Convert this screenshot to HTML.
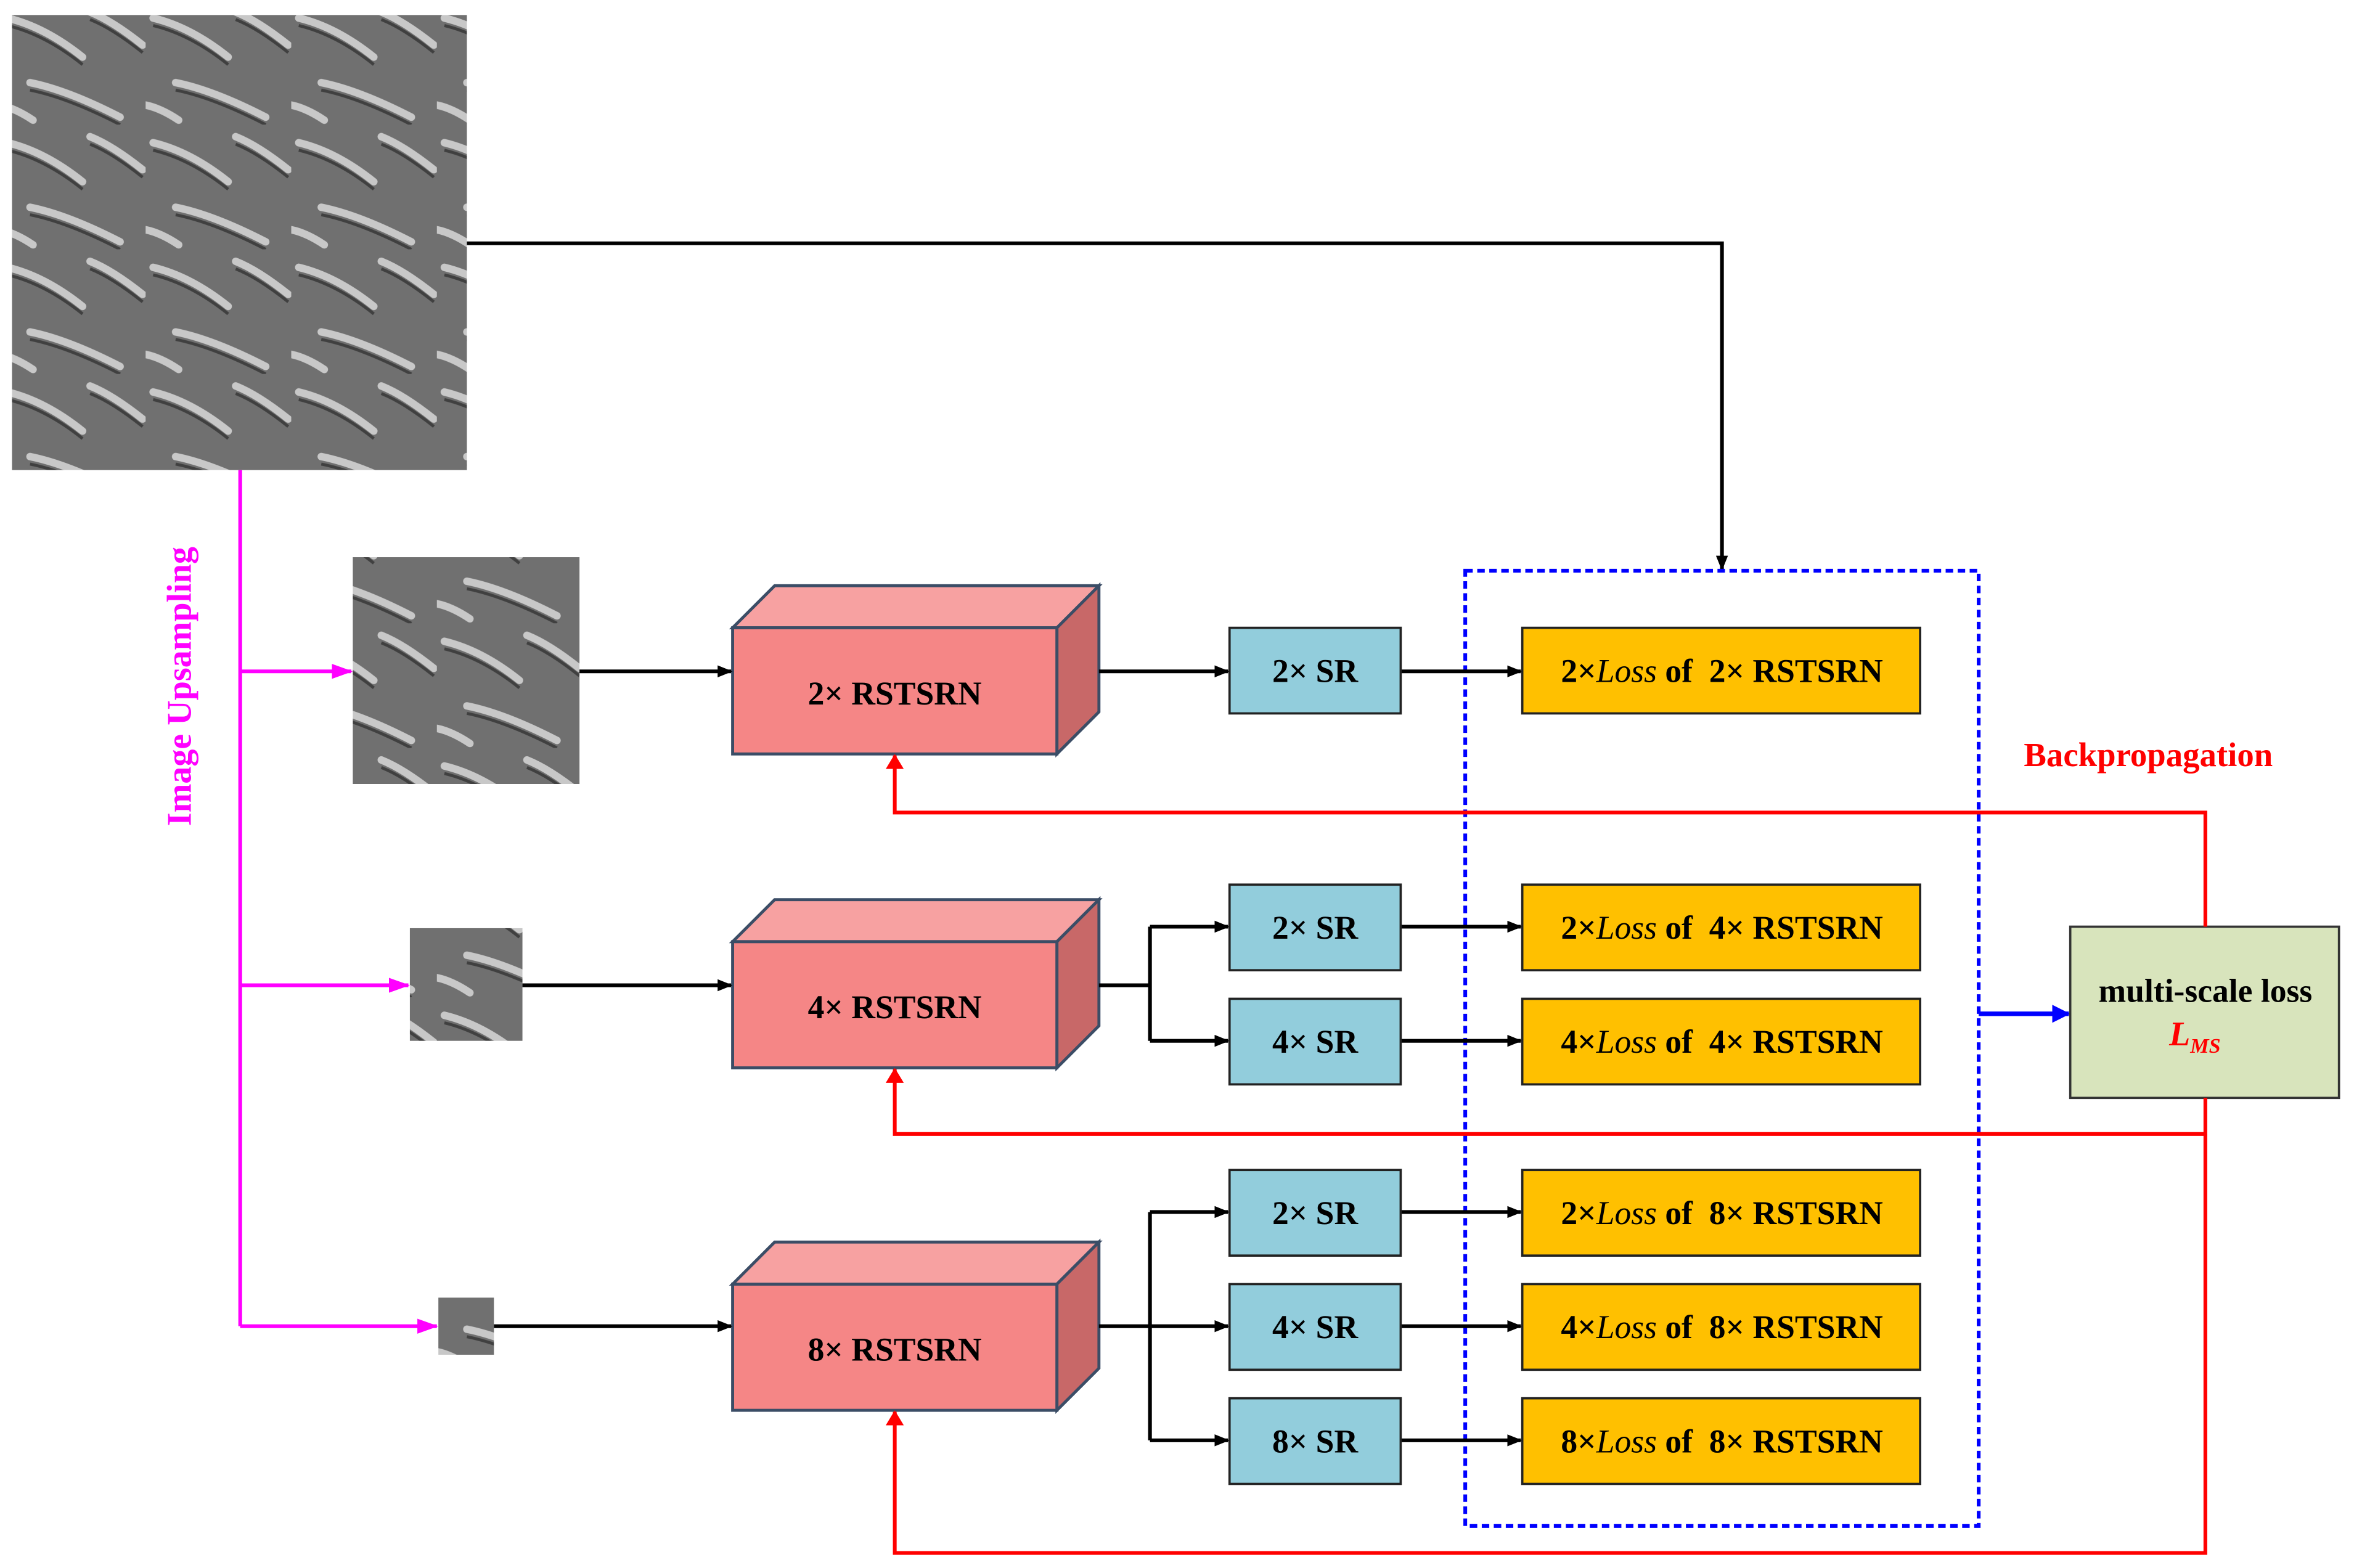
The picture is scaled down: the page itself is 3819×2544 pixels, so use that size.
<!DOCTYPE html>
<html><head><meta charset="utf-8"><style>
html,body{margin:0;padding:0;background:#fff;}
svg{display:block;}
text{font-family:"Liberation Serif",serif;font-weight:bold;white-space:pre;}
</style></head><body>
<svg width="3819" height="2544" viewBox="0 0 1568 1044" preserveAspectRatio="none" xmlns="http://www.w3.org/2000/svg">
<defs>
<marker id="ak" markerWidth="10" markerHeight="8" refX="9" refY="4" orient="auto" markerUnits="userSpaceOnUse"><path d="M0,0 L10,4 L0,8 z" fill="#000"/></marker>
<marker id="ar" markerWidth="10" markerHeight="12" refX="9" refY="6" orient="auto" markerUnits="userSpaceOnUse"><path d="M0,0 L10,6 L0,12 z" fill="#f00"/></marker>
<marker id="am" markerWidth="14" markerHeight="10" refX="13" refY="5" orient="auto" markerUnits="userSpaceOnUse"><path d="M0,0 L14,5 L0,10 z" fill="#f0f"/></marker>
<marker id="ab" markerWidth="12" markerHeight="12" refX="11" refY="6" orient="auto" markerUnits="userSpaceOnUse"><path d="M0,0 L12,6 L0,12 z" fill="#00f"/></marker>
<pattern id="terr" width="97" height="83" patternUnits="userSpaceOnUse">
<rect width="97" height="83" fill="#707070"/>
<path d="M5,12 Q30,18 55,38 M20,55 Q45,60 80,78 M60,8 Q75,14 95,30 M0,70 Q10,72 22,80" stroke="#c8c8c8" stroke-width="5" fill="none" stroke-linecap="round"/>
<path d="M5,17 Q30,23 55,43 M20,60 Q45,65 80,83 M60,13 Q75,19 95,35" stroke="#404040" stroke-width="2" fill="none"/>
</pattern>
</defs>
<rect x="8" y="10" width="303" height="303" fill="url(#terr)"/>
<rect x="235" y="371" width="151" height="151" fill="url(#terr)"/>
<rect x="273" y="618" width="75" height="75" fill="url(#terr)"/>
<rect x="292" y="864" width="37" height="38" fill="url(#terr)"/>

<polyline points="311,162 1147,162 1147,379" fill="none" stroke="#000" stroke-width="2.5" marker-end="url(#ak)"/>
<g stroke="#f0f" stroke-width="2.5" fill="none">
<line x1="160" y1="313" x2="160" y2="883"/>
<line x1="160" y1="447" x2="234" y2="447" marker-end="url(#am)"/>
<line x1="160" y1="656" x2="272" y2="656" marker-end="url(#am)"/>
<line x1="160" y1="883" x2="291" y2="883" marker-end="url(#am)"/>
</g>
<text transform="translate(127,457) rotate(-90)" text-anchor="middle" font-size="23" fill="#f0f">Image Upsampling</text>

<rect x="976" y="380" width="342" height="636" fill="none" stroke="#00f" stroke-width="2.5" stroke-dasharray="5,3"/>

<g stroke="#3b4d66" stroke-width="2">
<g><polygon points="488,418 516,390 732,390 704,418" fill="#f7a1a1"/><polygon points="704,418 732,390 732,474 704,502" fill="#c86868"/><rect x="488" y="418" width="216" height="84" fill="#f58686"/></g>
<g transform="translate(0,209)"><polygon points="488,418 516,390 732,390 704,418" fill="#f7a1a1"/><polygon points="704,418 732,390 732,474 704,502" fill="#c86868"/><rect x="488" y="418" width="216" height="84" fill="#f58686"/></g>
<g transform="translate(0,437)"><polygon points="488,418 516,390 732,390 704,418" fill="#f7a1a1"/><polygon points="704,418 732,390 732,474 704,502" fill="#c86868"/><rect x="488" y="418" width="216" height="84" fill="#f58686"/></g>
</g>
<g font-size="22" text-anchor="middle" fill="#000">
<text x="596" y="469">2× RSTSRN</text>
<text x="596" y="678">4× RSTSRN</text>
<text x="596" y="906">8× RSTSRN</text>
</g>

<g stroke="#000" stroke-width="2.5" fill="none">
<line x1="386" y1="447" x2="487" y2="447" marker-end="url(#ak)"/>
<line x1="348" y1="656" x2="487" y2="656" marker-end="url(#ak)"/>
<line x1="329" y1="883" x2="487" y2="883" marker-end="url(#ak)"/>
<line x1="732" y1="447" x2="818" y2="447" marker-end="url(#ak)"/>
<polyline points="732,656 766,656"/>
<line x1="766" y1="617" x2="766" y2="693"/>
<line x1="766" y1="617" x2="818" y2="617" marker-end="url(#ak)"/>
<line x1="766" y1="693" x2="818" y2="693" marker-end="url(#ak)"/>
<polyline points="732,883 766,883"/>
<line x1="766" y1="807" x2="766" y2="959"/>
<line x1="766" y1="807" x2="818" y2="807" marker-end="url(#ak)"/>
<line x1="766" y1="883" x2="818" y2="883" marker-end="url(#ak)"/>
<line x1="766" y1="959" x2="818" y2="959" marker-end="url(#ak)"/>
<line x1="933" y1="447" x2="1013" y2="447" marker-end="url(#ak)"/>
<line x1="933" y1="617" x2="1013" y2="617" marker-end="url(#ak)"/>
<line x1="933" y1="693" x2="1013" y2="693" marker-end="url(#ak)"/>
<line x1="933" y1="807" x2="1013" y2="807" marker-end="url(#ak)"/>
<line x1="933" y1="883" x2="1013" y2="883" marker-end="url(#ak)"/>
<line x1="933" y1="959" x2="1013" y2="959" marker-end="url(#ak)"/>
</g>

<g fill="#92cddc" stroke="#222" stroke-width="1.5">
<rect x="819" y="418" width="114" height="57"/>
<rect x="819" y="589" width="114" height="57"/>
<rect x="819" y="665" width="114" height="57"/>
<rect x="819" y="779" width="114" height="57"/>
<rect x="819" y="855" width="114" height="57"/>
<rect x="819" y="931" width="114" height="57"/>
</g>
<g font-size="22" text-anchor="middle">
<text x="876" y="454">2× SR</text>
<text x="876" y="625">2× SR</text>
<text x="876" y="701">4× SR</text>
<text x="876" y="815">2× SR</text>
<text x="876" y="891">4× SR</text>
<text x="876" y="967">8× SR</text>
</g>
<g fill="#ffc000" stroke="#222" stroke-width="1.5">
<rect x="1014" y="418" width="265" height="57"/>
<rect x="1014" y="589" width="265" height="57"/>
<rect x="1014" y="665" width="265" height="57"/>
<rect x="1014" y="779" width="265" height="57"/>
<rect x="1014" y="855" width="265" height="57"/>
<rect x="1014" y="931" width="265" height="57"/>
</g>
<g font-size="22" text-anchor="middle">
<text x="1147" y="454">2×<tspan font-style="italic" font-weight="normal">Loss</tspan> of  2× RSTSRN</text>
<text x="1147" y="625">2×<tspan font-style="italic" font-weight="normal">Loss</tspan> of  4× RSTSRN</text>
<text x="1147" y="701">4×<tspan font-style="italic" font-weight="normal">Loss</tspan> of  4× RSTSRN</text>
<text x="1147" y="815">2×<tspan font-style="italic" font-weight="normal">Loss</tspan> of  8× RSTSRN</text>
<text x="1147" y="891">4×<tspan font-style="italic" font-weight="normal">Loss</tspan> of  8× RSTSRN</text>
<text x="1147" y="967">8×<tspan font-style="italic" font-weight="normal">Loss</tspan> of  8× RSTSRN</text>
</g>

<line x1="1318" y1="675" x2="1378" y2="675" stroke="#00f" stroke-width="3" marker-end="url(#ab)"/>
<rect x="1379" y="617" width="179" height="114" fill="#d8e4bc" stroke="#333" stroke-width="1.5"/>
<text x="1469" y="667" font-size="22" text-anchor="middle">multi-scale loss</text>
<text x="1462" y="696" font-size="23" text-anchor="middle" fill="#f00" font-style="italic">L<tspan font-size="14" dy="5">MS</tspan></text>

<g stroke="#f00" stroke-width="2.5" fill="none">
<polyline points="1469,617 1469,541 596,541 596,503" marker-end="url(#ar)"/>
<polyline points="1469,731 1469,755 596,755 596,712" marker-end="url(#ar)"/>
<polyline points="1469,755 1469,1034 596,1034 596,940" marker-end="url(#ar)"/>
</g>
<text x="1431" y="510" font-size="22.5" text-anchor="middle" fill="#f00">Backpropagation</text>
</svg>
</body></html>
